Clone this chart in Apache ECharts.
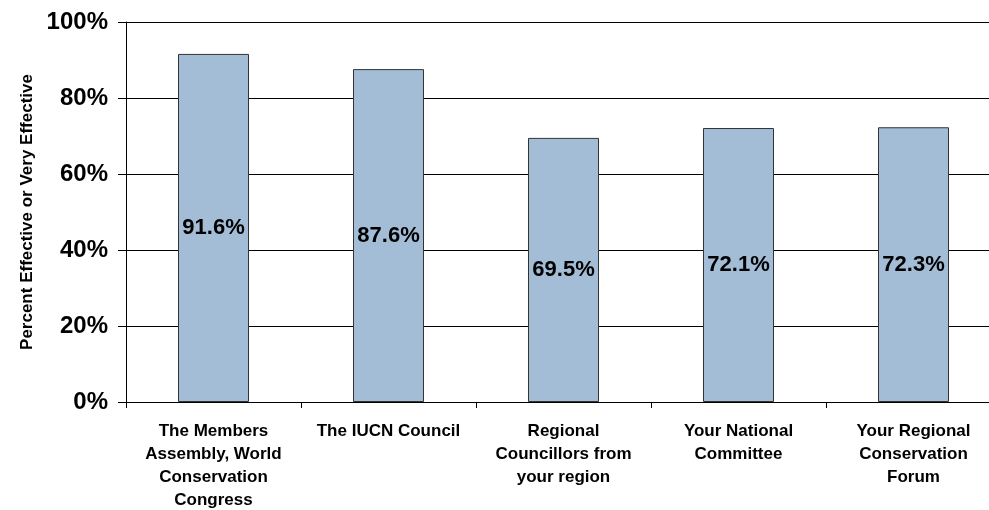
<!DOCTYPE html>
<html>
<head>
<meta charset="utf-8">
<script src="https://cdn.jsdelivr.net/npm/echarts@6/dist/echarts.min.js"></script>
<style>
  html, body { margin: 0; padding: 0; background: #fff; }
  #chart { width: 989px; height: 510px; }
</style>
</head>
<body>
<div id="chart"></div>
<script>
// Bodies rated, with line breaks as set under each bar
const categories = [
  'The Members\nAssembly, World\nConservation\nCongress',
  'The IUCN Council',
  'Regional\nCouncillors from\nyour region',
  'Your National\nCommittee',
  'Your Regional\nConservation\nForum'
];
// Share answering "Effective" or "Very Effective" (%)
const effectiveShare = [91.6, 87.6, 69.5, 72.1, 72.3];
// Value axis
const yMin = 0;
const yMax = 100;
const yStep = 20;
const yTitle = 'Percent Effective or Very Effective';

const FONT = 'Arial, "Liberation Sans", sans-serif';

const chart = echarts.init(document.getElementById('chart'), null, { renderer: 'canvas' });
chart.setOption({
  animation: false,
  backgroundColor: '#ffffff',
  // the plot runs a little past the right edge of the canvas
  grid: {
    left: 126, top: 22, width: 875, height: 380,
    containLabel: false,
    outerBoundsMode: 'none'
  },
  xAxis: {
    type: 'category',
    data: categories,
    boundaryGap: true,
    axisLine: { show: true, lineStyle: { color: '#000', width: 1 } },
    axisTick: { show: true, length: 6, alignWithLabel: false, lineStyle: { color: '#000' } },
    axisLabel: {
      interval: 0,
      margin: 18,
      color: '#000',
      fontFamily: FONT,
      fontWeight: 'bold',
      fontSize: 17,
      lineHeight: 23,
      align: 'center'
    },
    splitLine: { show: false }
  },
  yAxis: {
    type: 'value',
    min: yMin,
    max: yMax,
    interval: yStep,
    name: yTitle,
    nameLocation: 'middle',
    nameGap: 83,
    nameRotate: 90,
    nameTextStyle: {
      color: '#000',
      fontFamily: FONT,
      fontWeight: 'bold',
      fontSize: 17
    },
    axisLine: { show: true, lineStyle: { color: '#000', width: 1 } },
    axisTick: { show: true, inside: false, length: 8, lineStyle: { color: '#000' } },
    axisLabel: {
      margin: 18,
      color: '#000',
      fontFamily: FONT,
      fontWeight: 'bold',
      fontSize: 24,
      formatter: v => v + '%'
    },
    splitLine: { show: true, lineStyle: { color: '#000', width: 1 } }
  },
  series: [{
    type: 'bar',
    data: effectiveShare,
    barWidth: 71,
    itemStyle: { color: '#a3bdd7', borderColor: '#333', borderWidth: 1 },
    label: {
      show: true,
      position: 'inside',
      color: '#000',
      fontFamily: FONT,
      fontWeight: 'bold',
      fontSize: 22,
      formatter: p => p.value.toFixed(1) + '%'
    }
  }]
});
</script>
</body>
</html>
